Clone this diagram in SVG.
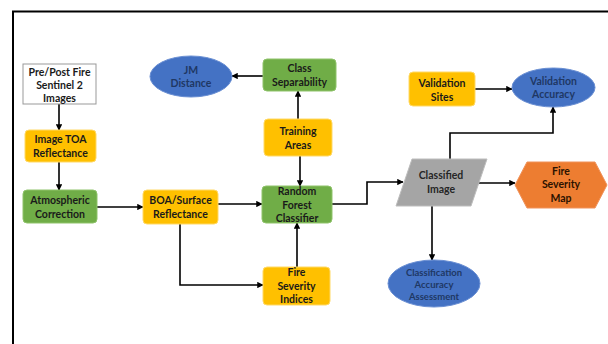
<svg xmlns="http://www.w3.org/2000/svg" width="608" height="344" viewBox="0 0 608 344">
<style>
text{font-family:Lato,"Liberation Sans",sans-serif;font-weight:bold;font-size:10.5px;text-anchor:middle}
.dk{fill:#1a1a1a}
.bl{fill:#1f3864}
.or{fill:#FFC000;stroke:#FFD966;stroke-width:1}
.gr{fill:#70AD47;stroke:#8FC36B;stroke-width:1}
.be{fill:#4472C4;stroke:#6A8FD3;stroke-width:1}
.cn{fill:none;stroke:#000;stroke-width:1.6}
</style>
<defs>
<marker id="ah" viewBox="0 0 10 10" refX="9" refY="5" markerWidth="4" markerHeight="4" orient="auto" markerUnits="strokeWidth">
<path d="M0,0 L10,5 L0,10 z" fill="#000"/>
</marker>
</defs>
<rect x="0" y="0" width="608" height="344" fill="#fff"/>
<path d="M13,344 L13,11.5 L608,11.5" fill="none" stroke="#000" stroke-width="2"/>
<g id="connectors">
<path class="cn" d="M59,104 L59,130" marker-end="url(#ah)"/>
<path class="cn" d="M59,162 L59,190" marker-end="url(#ah)"/>
<path class="cn" d="M97,207 L143,207" marker-end="url(#ah)"/>
<path class="cn" d="M218,204 L262,204" marker-end="url(#ah)"/>
<path class="cn" d="M180,224 L180,285 L263,285" marker-end="url(#ah)" stroke-width="1.2"/>
<path class="cn" d="M297,267 L297,223" marker-end="url(#ah)"/>
<path class="cn" d="M300,156 L300,186" marker-end="url(#ah)"/>
<path class="cn" d="M298,119 L298,91" marker-end="url(#ah)"/>
<path class="cn" d="M263,76 L232,76" marker-end="url(#ah)"/>
<path class="cn" d="M332,204 L367,204 L367,182 L403,182" marker-end="url(#ah)"/>
<path class="cn" d="M477,183 L515,183" marker-end="url(#ah)"/>
<path class="cn" d="M450,159 L450,133 L553,133 L553,107" marker-end="url(#ah)"/>
<path class="cn" d="M475,89 L512,89" marker-end="url(#ah)"/>
<path class="cn" d="M432,206 L432,260" marker-end="url(#ah)"/>
</g>
<g id="pre">
<rect x="23" y="64" width="73" height="40" fill="#fff" stroke="#999" stroke-width="1"/>
<text class="dk" x="59.5" y="75.5">Pre/Post Fire</text>
<text class="dk" x="59.5" y="88.5">Sentinel 2</text>
<text class="dk" x="59.5" y="101.5">Images</text>
</g>
<g id="toa">
<rect class="or" x="25" y="130" width="71" height="32" rx="4"/>
<text class="dk" x="60.5" y="143">Image TOA</text>
<text class="dk" x="60.5" y="157">Reflectance</text>
</g>
<g id="atm">
<rect class="gr" x="23" y="190" width="74" height="33" rx="4"/>
<text class="dk" x="60" y="204">Atmospheric</text>
<text class="dk" x="60" y="218">Correction</text>
</g>
<g id="boa">
<rect class="or" x="143" y="190" width="75" height="34" rx="4"/>
<text class="dk" x="180.5" y="204">BOA/Surface</text>
<text class="dk" x="180.5" y="218">Reflectance</text>
</g>
<g id="rf">
<rect class="gr" x="262" y="186" width="70" height="37" rx="4"/>
<text class="dk" x="297" y="195">Random</text>
<text class="dk" x="297" y="209">Forest</text>
<text class="dk" x="297" y="222">Classifier</text>
</g>
<g id="fsi">
<rect class="or" x="263" y="267" width="67" height="38" rx="4"/>
<text class="dk" x="296.5" y="276">Fire</text>
<text class="dk" x="296.5" y="289.5">Severity</text>
<text class="dk" x="296.5" y="303">Indices</text>
</g>
<g id="train">
<rect class="or" x="264" y="119" width="68" height="37" rx="4"/>
<text class="dk" x="298" y="135">Training</text>
<text class="dk" x="298" y="148.5">Areas</text>
</g>
<g id="cls">
<rect class="gr" x="263" y="59" width="73" height="32" rx="4"/>
<text class="dk" x="299.5" y="72">Class</text>
<text class="dk" x="299.5" y="86">Separability</text>
</g>
<g id="jm">
<ellipse class="be" cx="191" cy="76.5" rx="41" ry="20.5"/>
<text class="bl" x="191" y="74">JM</text>
<text class="bl" x="191" y="87">Distance</text>
</g>
<g id="vs">
<rect class="or" x="409" y="72" width="66" height="34" rx="4"/>
<text class="dk" x="442" y="87">Validation</text>
<text class="dk" x="442" y="101">Sites</text>
</g>
<g id="va">
<ellipse class="be" cx="553.5" cy="87.5" rx="41.5" ry="19.5"/>
<text class="bl" x="553.5" y="85">Validation</text>
<text class="bl" x="553.5" y="98">Accuracy</text>
</g>
<g id="ci">
<polygon points="412,159 487,159 471,206 396,206" fill="#A5A5A5" stroke="#BDBDBD" stroke-width="1"/>
<text fill="#262626" x="441" y="179">Classified</text>
<text fill="#262626" x="441" y="193">Image</text>
</g>
<g id="fsm">
<polygon points="515,185 527,162 595,162 607,185 595,208 527,208" fill="#ED7D31" stroke="#F0925A" stroke-width="1"/>
<text fill="#2b1200" x="561" y="175">Fire</text>
<text fill="#2b1200" x="561" y="188">Severity</text>
<text fill="#2b1200" x="561" y="202">Map</text>
</g>
<g id="caa">
<ellipse class="be" cx="434" cy="283.5" rx="46" ry="23.5"/>
<text class="bl" x="434" y="276" style="font-size:9.5px">Classification</text>
<text class="bl" x="434" y="288" style="font-size:9.5px">Accuracy</text>
<text class="bl" x="434" y="300" style="font-size:9.5px">Assessment</text>
</g>
</svg>
